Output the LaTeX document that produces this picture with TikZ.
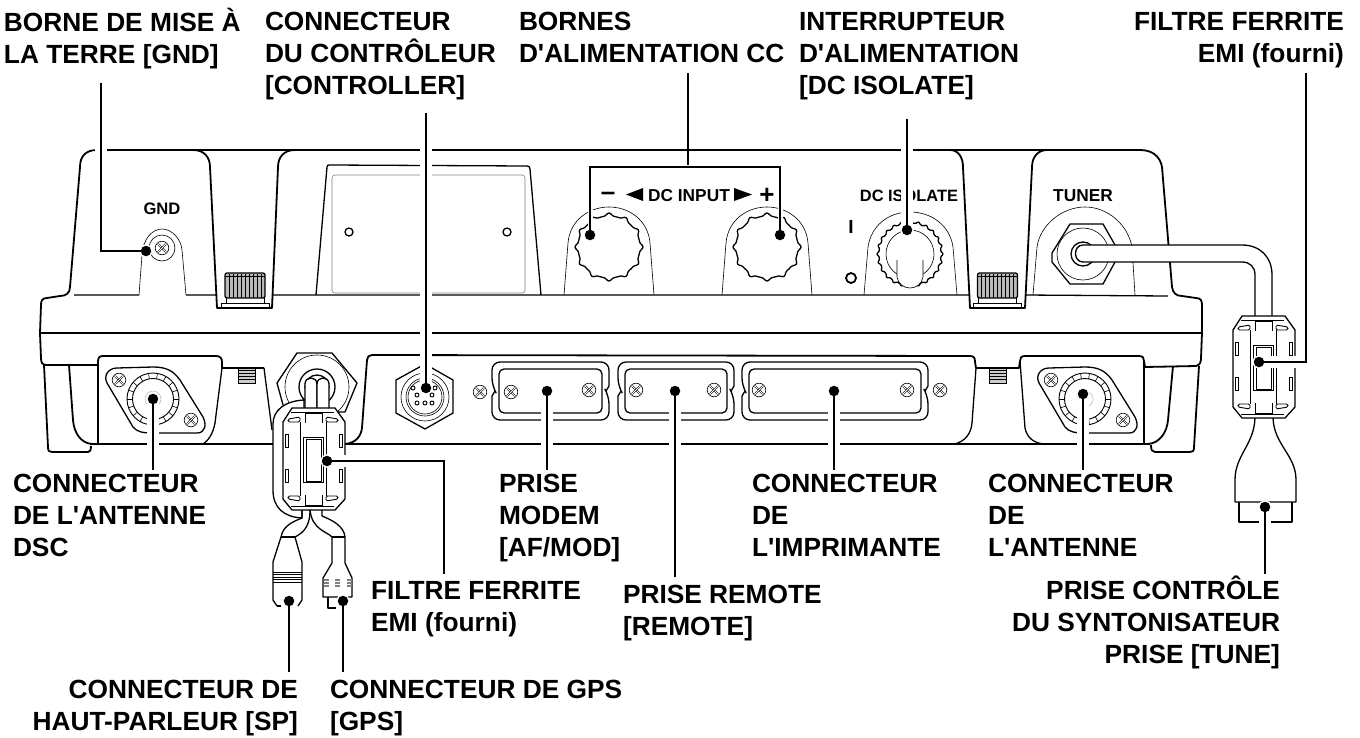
\documentclass[tikz,border=0pt]{standalone}
\usepackage{fontspec}
\usepackage{tikz}
\newfontfamily\lblfont{Liberation Sans}
\usetikzlibrary{arrows.meta, positioning, calc}
\tikzset{
    knobpic/.pic={
        \draw[medline] plot[domain=0:360,samples=145,smooth] ({(31+3*abs(cos(6*\x))^6)*cos(\x)},{(31+3*abs(cos(6*\x))^6)*sin(\x)});
    },
    isoknob/.pic={
        \draw[medline] plot[domain=0:360,samples=193,smooth] ({(31+2*abs(cos(12*\x))^4)*cos(\x)},{(31+2*abs(cos(12*\x))^4)*sin(\x)});
        \draw[thinline] (0,0) circle (24);
        \draw[thinline,fill=white] (-13,6) -- (-13,23) .. controls (-12,30) and (-6,34) .. (0,34) .. controls (6,34) and (12,30) .. (13,23) -- (13,6);
    },
    screw/.pic={
        \draw[thinline,fill=white] (0,0) circle (6.8);
        \draw[thinline,double,double distance=.8pt] (-4,-4) -- (4,4);
        \draw[thinline,double,double distance=.8pt] (-4,4) -- (4,-4);
    },
    antring/.pic={
        \draw[medline] (-46,-16) .. controls (-50,-24) and (-44,-31) .. (-36,-31) -- (0,-32) .. controls (12,-32) and (20,-29) .. (27,-19) -- (50,18) .. controls (54,26) and (52,34) .. (44,34) -- (0,34) .. controls (-10,34) and (-16,33) .. (-20,28) -- cycle;
        \draw[thinline,line width=.9pt] (0,0) circle (26) circle (20.5);
        \foreach \a in {0,20,...,340} {\draw[thinline] (\a:20.5) -- (\a:26);}
        \draw[faintline] (0,0) circle (8);
        \pic at (-34,-19) {screw};
        \pic at (38,21) {screw};
    },
    thumbwheel/.pic={
        \draw[medline,fill=gray!55,rounded corners=2] (-20,25) -- (-20,0) -- (20,0) -- (20,25) -- cycle;
        \foreach \k in {-16,-12,...,16} {\draw[line width=1pt] (\k,1) -- (\k,25);}
        \draw[thinline] (-20,3) -- (20,3);
        \draw[thinline] (-19,25) -- (-19,30) (19,25) -- (19,30);
        \draw[thinline] (-24,35) -- (-24,30) -- (24,30) -- (24,35);
    },
    smallwheel/.pic={
        \draw[thinline,fill=gray!40] (-8.5,0) rectangle (8.5,15);
        \foreach \k in {2,5,8,11} {\draw[line width=.9pt] (-8,\k) -- (8,\k);}
    },
    ferrite/.pic={
        \draw[medline,fill=white] (-22,-51) -- (21,-51) -- (31,-37) -- (31,40) -- (21,51) -- (-22,51) -- (-31,40) -- (-31,-37) -- cycle;
        \draw[thinline,line width=.9pt] (-14,-37) -- (-14,37) (12,-37) -- (12,37);
        \draw[thinline] (-11,-22) rectangle (9,23);
        \draw[thinline,line width=.9pt] (-8,-20) rectangle (7,22);
        \foreach \yy in {-25,10} {
            \draw[thinline,line width=.9pt] (-29,\yy) rectangle (-26,\yy+13);
            \draw[thinline,line width=.9pt] (25,\yy) rectangle (28,\yy+13);
        }
        \foreach \s in {-1,1} {
            \draw[thinline,line width=.9pt] (-9,\s*36) -- (-9,\s*46) -- (8,\s*46) -- (8,\s*36);
            \draw[thinline] (-23,\s*47) -- (20,\s*47);
            \draw[thinline,line width=.9pt,fill=white,rounded corners=1.5] (-26,\s*37) -- (-14,\s*37) -- (-14,\s*42) -- (-26,\s*40) -- cycle;
            \draw[thinline,line width=.9pt,fill=white,rounded corners=1.5] (24,\s*37) -- (12,\s*37) -- (12,\s*42) -- (24,\s*40) -- cycle;
        }
    },
}

\begin{document}
\begin{tikzpicture}[
    x=1pt, y=-1pt,
    bodyline/.style={line width=1.8pt, line join=round},
    medline/.style={line width=1.3pt, line join=round},
    thinline/.style={line width=.6pt},
    faintline/.style={line width=.5pt, gray!60},
    leader/.style={line width=2.4pt, preaction={draw, white, line width=12pt}},
    bracket/.style={line width=2.4pt, preaction={draw, white, line width=5pt}},
    dot/.style={circle, fill=black, inner sep=0pt, minimum size=10.5pt, preaction={draw=white, line width=3pt}},
    lblbase/.style={align=#1, inner sep=0pt, outer sep=0pt, font=\lblfont\fontsize{26.3}{32}\selectfont\bfseries},
    lblleft/.style={lblbase=left, anchor=north west},
    lblright/.style={lblbase=right, anchor=north east},
    panelmark/.style={inner sep=0pt, font=\lblfont\fontsize{17.3}{18}\selectfont\bfseries},
]
    \useasboundingbox (0,0) rectangle (1360,737);

    % Body outline
    \draw[bodyline] (97,150) .. controls (86,150) and (80,156) .. (80,167) -- (70,287) .. controls (70,293) and (66,296) .. (60,296) -- (47,298) .. controls (42,298) and (41,301) .. (41,305) -- (40,333) -- (41,358) .. controls (41,362) and (42,365) .. (46,365) -- (98,365);
    \draw[bodyline] (1140,150) .. controls (1152,150) and (1160,156) .. (1162,167) -- (1172,287) .. controls (1173,293) and (1176,296) .. (1182,296) -- (1196,298) .. controls (1201,298) and (1202,301) .. (1202,305) -- (1202,333) -- (1201,358) .. controls (1201,362) and (1200,365) .. (1196,366) -- (1145,367);
    \draw[bodyline] (97,150) -- (1140,150);
    \draw[bodyline] (40,333) -- (1202,333);
    \draw[bodyline] (193,150) .. controls (204,150) and (210,157) .. (210,167) -- (217,308) -- (272,308) -- (278,167) .. controls (278,157) and (284,150) .. (295,150);
    \draw[bodyline] (950,150) .. controls (958,150) and (963,157) .. (963,167) -- (970,308) -- (1025,308) -- (1032,167) .. controls (1032,157) and (1038,150) .. (1047,150);
    \draw[medline] (74,295) -- (139,295) (186,295) -- (217,295) (272,295) -- (970,295) (1025,295) -- (1168,296);

    % Feet and lower panels
    \draw[bodyline] (44,365) -- (48,447) .. controls (48,451) and (49,452) .. (52,452) -- (88,452) .. controls (90,452) and (91,450) .. (91,446);
    \draw[bodyline] (69,365) -- (73,420) .. controls (74,432) and (80,443) .. (92,444);
    \draw[bodyline] (1199,366) -- (1194,447) .. controls (1194,451) and (1193,452) .. (1190,452) -- (1155,452) .. controls (1152,452) and (1151,450) .. (1151,445);
    \draw[bodyline] (1173,366) -- (1168,420) .. controls (1167,432) and (1160,443) .. (1148,444);
    \draw[bodyline] (90,444) -- (273,444) (345,444) -- (1150,444);
    \draw[bodyline] (98,362) .. controls (98,358) and (99,356) .. (103,356) -- (216,356) .. controls (220,356) and (222,358) .. (222,362) -- (222,368) -- (264,368);
    \draw[medline] (264,368) -- (272,430);
    \draw[medline] (98,360) -- (98,444);
    \draw[medline] (222,368) -- (215,423) .. controls (213,434) and (208,441) .. (203,444);
    \draw[bodyline] (345,444) .. controls (356,443) and (361,436) .. (362,428) -- (367,360) .. controls (367,357) and (369,355) .. (372,355) -- (970,356) .. controls (974,356) and (975,358) .. (975,362) -- (976,368) -- (1019,368) -- (1020,361) .. controls (1020,358) and (1021,356) .. (1025,356) -- (1139,356) .. controls (1143,356) and (1144,358) .. (1144,361) -- (1145,367);
    \draw[medline] (976,368) -- (972,423) .. controls (971,434) and (965,441) .. (955,444);
    \draw[medline] (1020,361) -- (1025,428) .. controls (1027,438) and (1034,443) .. (1044,444);
    \draw[medline] (1144,361) -- (1144,444);

    % Display recess
    \draw[medline] (316,295) -- (327,167) .. controls (327,165) and (328,165) .. (330,165) -- (527,166) .. controls (529,166) and (530,167) .. (530,169) -- (541,295);
    \draw[thinline,gray,rounded corners=3] (332,175) rectangle (525,293);
    \draw[medline] (349,232) circle (4) (507,232) circle (4);

    % Thumb wheels
    \pic at (245,273) {thumbwheel};
    \pic at (997.5,273) {thumbwheel};
    \pic at (246.5,368) {smallwheel};
    \pic at (997.5,368) {smallwheel};

    % GND post
    \draw[thinline] (139,295) -- (142,255) .. controls (143,239) and (152,229) .. (162,229) .. controls (172,229) and (181,239) .. (182,250) -- (186,295);
    \pic at (162,248) {screw};
    \draw[thinline] (162,248) circle (13);
    \node[panelmark,font=\lblfont\fontsize{16.6}{18}\selectfont\bfseries] (markgnd) at (162,209) {GND};

    % DC terminals
    \foreach \cx in {609,767} {
        \draw[thinline] (\cx-45,295) -- (\cx-41,243) .. controls (\cx-39,220) and (\cx-20,207) .. (\cx,207) .. controls (\cx+20,207) and (\cx+39,220) .. (\cx+41,243) -- (\cx+45,295);
        \pic at (\cx,247) {knobpic};
    }
    \node[panelmark,font=\lblfont\fontsize{26}{26}\selectfont\bfseries] (markminus) at (608,196) {\symbol{"2013}};
    \node[panelmark,font=\lblfont\fontsize{26}{26}\selectfont\bfseries] (markplus) at (767,196) {+};
    \node[panelmark] (markdc) at (689,196) {DC INPUT};
    \fill (643,188) -- (643,201) -- (626,194.5) -- cycle;
    \fill (734,188) -- (734,201) -- (752,194.5) -- cycle;

    % DC isolate switch
    \draw[thinline] (864,295) -- (868,247) .. controls (871,226) and (888,212) .. (910,212) .. controls (932,212) and (950,226) .. (953,247) -- (957,295);
    \pic at (910,254) {isoknob};
    \node[panelmark,font=\lblfont\fontsize{16.4}{18}\selectfont\bfseries] (markiso) at (909,196) {DC ISOLATE};
    \node[panelmark,font=\lblfont\fontsize{19}{19}\selectfont\bfseries] (markon) at (851,227) {I};
    \draw[bodyline] (851,278) circle (5);

    % Tuner socket and cable
    \node[panelmark] (marktuner) at (1083,196) {TUNER};
    \draw[thinline] (1033,295) -- (1037,247) .. controls (1040,225) and (1062,207) .. (1085,207) .. controls (1108,207) and (1128,225) .. (1132,247) -- (1135,295);
    \draw[medline,fill=white] (1052,253) -- (1070,224) -- (1103,224) -- (1115,245) -- (1115,262) -- (1103,284) -- (1070,284) -- (1052,262) -- cycle;
    \draw[thinline] (1083,254) circle (26);
    \draw[medline,fill=white] (1083,254) circle (12);
    \draw[medline,fill=white] (1083,245) .. controls (1073,245) and (1073,262) .. (1083,262) -- (1242,262) .. controls (1250,262) and (1255,267) .. (1255,275) -- (1255,317) -- (1272,317) -- (1272,275) .. controls (1272,257) and (1260,245) .. (1242,245) -- cycle;

    % Rear connectors
    \pic at (153,399) {antring};
    \pic at (1085,399) {antring};
    \draw[medline] (425,364) -- (453,380) -- (453,413) -- (425,429) -- (396,413) -- (396,380) -- cycle;
    \draw[thinline] (425,397) circle (24) circle (19) circle (17);
    \foreach \px/\py in {417/403,425/403,432/403,417/395,432/395,413/388,435/388} {
        \draw[thinline,line width=.9pt] (\px,\py) circle (2);
    }
    \foreach \xl/\xr in {492/609,618/734,742/928} {
        \draw[medline] (\xl+3,391) -- (\xl,396) [rounded corners=8] -- (\xl,420) -- (\xr,420) -- (\xr,396) [sharp corners] -- (\xr-3,391) -- (\xr,386) [rounded corners=8] -- (\xr,362) -- (\xl,362) -- (\xl,386) [sharp corners] -- cycle;
        \draw[medline,rounded corners=5] (\xl+7,369) rectangle (\xr-7,413);
    }
    \foreach \sx/\sy in {480/392,511/392,589/390,636/390,714/390,759/390,907/390,940/390} {
        \pic at (\sx,\sy) {screw};
    }

    % Cable gland and left ferrite
    \draw[medline,fill=white] (297,353) -- (332,353) -- (357,383) -- (345,412) -- (285,412) -- (277,383) -- cycle;
    \draw[thinline] (317,387) circle (32);
    \draw[medline,fill=white] (317,387) circle (18);
    \draw[medline,fill=white] (317,387) circle (12);
    \draw[medline,fill=white] (305,412) -- (305,384) .. controls (305,376) and (317,376) .. (317,384) -- (317,412);
    \draw[medline,fill=white] (317,412) -- (317,384) .. controls (317,376) and (329,376) .. (329,384) -- (329,412);
    \draw[medline,fill=white] (304,400) .. controls (285,401) and (273,410) .. (273,424) -- (273,490) .. controls (273,508) and (284,517) .. (302,518) -- (302,500) -- (304,420) -- cycle;
    \pic at (314,459) {ferrite};

    % Left plugs
    \draw[medline] (302,510) -- (302,518) .. controls (292,522) and (283,526) .. (281,537);
    \draw[medline] (310,510) .. controls (310,530) and (300,534) .. (295,537);
    \draw[medline] (310,510) .. controls (312,530) and (328,532) .. (332,537);
    \draw[medline] (322,510) -- (322,516) .. controls (332,520) and (344,526) .. (345,537);
    \draw[bodyline] (281,537) -- (295,537) (332,537) -- (345,537);
    \draw[medline] (281,537) -- (273,562) -- (273,600) -- (277,606) (295,537) -- (302,562) -- (302,600) -- (298,606);
    \draw[thinline,line width=1pt] \foreach \k in {572,574.5,...,584} {(273,\k) -- (302,\k)};
    \draw[medline] (277,606) -- (281,606);
    \draw[medline] (332,537) -- (332,563) -- (323,578) -- (323,597) -- (352,597) -- (352,578) -- (345,563) -- (345,537);
    \draw[line width=1.2pt,gray] \foreach \k in {326,337.5,349} {(\k-2.5,580) -- (\k+2.5,580) (\k-2.5,583) -- (\k+2.5,583) (\k-2.5,586) -- (\k+2.5,586)};
    \draw[medline] (328,597) -- (328,608) -- (336,608);

    % Right ferrite and plug
    \pic at (1264,367) {ferrite};
    \draw[medline] (1255,418) .. controls (1254,445) and (1235,455) .. (1235,480) -- (1235,502) -- (1296,502) -- (1296,480) .. controls (1296,455) and (1274,445) .. (1273,418);
    \draw[medline] (1239,502) -- (1239,522) -- (1292,522) -- (1292,502);

    % Leader dots
    \node[dot] (dotgnd) at (146,251) {};
    \node[dot] (dotctrl) at (426,388) {};
    \node[dot] (dotminus) at (590,235) {};
    \node[dot] (dotplus) at (780,235) {};
    \node[dot] (dotiso) at (907,230) {};
    \node[dot] (dotfer) at (1259,362) {};
    \node[dot] (dotdsc) at (153,399) {};
    \node[dot] (dotant) at (1083,394) {};
    \node[dot] (dotmodem) at (547,391) {};
    \node[dot] (dotremote) at (675,391) {};
    \node[dot] (dotprint) at (834,391) {};
    \node[dot] (dotfil) at (327,461) {};
    \node[dot] (dotsp) at (289,601) {};
    \node[dot] (dotgps) at (343,601) {};
    \node[dot] (dottune) at (1265,507) {};

    % Top labels
    \node[lblleft] (lblgnd) at (4,8.4) {BORNE DE MISE À\\LA TERRE [GND]};
    \node[lblleft] (lblctrl) at (265,12.5) {CONNECTEUR\\DU CONTRÔLEUR\\{}[CONTROLLER]};
    \node[lblleft] (lbldc) at (519,12.5) {BORNES\\D'ALIMENTATION CC};
    \node[lblleft] (lbliso) at (799,12.5) {INTERRUPTEUR\\D'ALIMENTATION\\{}[DC ISOLATE]};
    \node[lblright] (lblfer) at (1344,12.5) {FILTRE FERRITE\\EMI (fourni)};

    % Bottom labels
    \node[lblleft] (lbldsc) at (13,474.5) {CONNECTEUR\\DE L'ANTENNE\\DSC};
    \node[lblleft] (lblmodem) at (499,474.5) {PRISE\\MODEM\\{}[AF/MOD]};
    \node[lblleft] (lblprint) at (752,474.5) {CONNECTEUR\\DE\\L'IMPRIMANTE};
    \node[lblleft] (lblant) at (988,474.5) {CONNECTEUR\\DE\\L'ANTENNE};
    \node[lblleft] (lblfil) at (371,581.5) {FILTRE FERRITE\\EMI (fourni)};
    \node[lblleft] (lblremote) at (623,585.5) {PRISE REMOTE\\{}[REMOTE]};
    \node[lblright] (lbltune) at (1280,576.4) {PRISE CONTRÔLE\\DU SYNTONISATEUR\\PRISE [TUNE]};
    \node[lblright] (lblsp) at (298,680.5) {CONNECTEUR DE\\HAUT-PARLEUR [SP]};
    \node[lblleft] (lblgps) at (330,680.5) {CONNECTEUR DE GPS\\{}[GPS]};

    % Leader bends and free ends
    \coordinate (bendgnd) at (101,251);
    \coordinate (topgnd) at (101,83);
    \coordinate (topctrl) at (426,113);
    \coordinate (benddc) at (688,167);
    \coordinate (topdc) at (688,73);
    \coordinate (topiso) at (907,119);
    \coordinate (bendfer) at (1306,362);
    \coordinate (topfer) at (1306,73);
    \coordinate (bendfil) at (444,461);

    % Leaders
    \draw[leader] (topgnd) -- (bendgnd) -- (dotgnd);
    \draw[leader] (topctrl) -- (dotctrl);
    \draw[line width=2.4pt] (topdc) -- (benddc);
    \draw[bracket] (dotminus) |- (benddc) -| (dotplus);
    \draw[leader] (topiso) -- (dotiso);
    \draw[leader] (topfer) -- (bendfer) -- (dotfer);
    \draw[leader,shorten >=5pt] (dotdsc) -- (lbldsc.north -| dotdsc);
    \draw[leader,shorten >=5pt] (dotmodem) -- (lblmodem.north -| dotmodem);
    \draw[leader,shorten >=9pt] (dotremote) -- (lblremote.north -| dotremote);
    \draw[leader,shorten >=5pt] (dotprint) -- (lblprint.north -| dotprint);
    \draw[leader,shorten >=5pt] (dotant) -- (lblant.north -| dotant);
    \draw[leader,shorten >=8pt] (dotfil) -- (bendfil) -- (lblfil.north -| bendfil);
    \draw[leader,shorten >=9pt] (dotsp) -- (lblsp.north -| dotsp);
    \draw[leader,shorten >=9pt] (dotgps) -- (lblgps.north -| dotgps);
    \draw[leader,shorten >=2pt] (dottune) -- (lbltune.north -| dottune);
\end{tikzpicture}
\end{document}
